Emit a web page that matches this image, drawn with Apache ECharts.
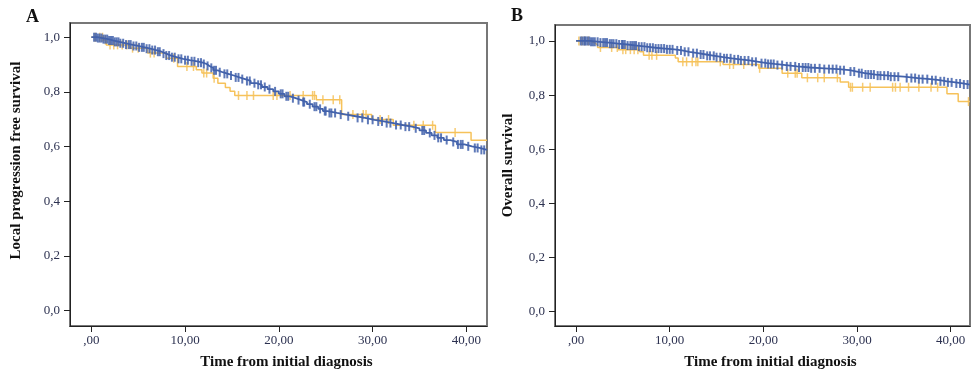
<!DOCTYPE html>
<html>
<head>
<meta charset="utf-8">
<script src="https://cdn.jsdelivr.net/npm/echarts@6/dist/echarts.min.js"></script>
<style>
  html, body { margin: 0; padding: 0; background: #fff; }
  #chart { width: 977px; height: 375px; }
</style>
</head>
<body>
<div id="chart"></div>
<script>
// Kaplan-Meier step curves: event times and survival after each event
const blueA_t = [0, 0.6, 1.2, 1.8, 2.4, 3.0, 3.6, 4.3, 5.0, 5.7, 6.3, 6.9, 7.5, 8.0, 8.5, 9.1, 9.8, 10.5, 11.3, 11.9, 12.3, 12.6, 13.0, 13.5, 14.0, 14.6, 15.2, 15.8, 16.4, 17.0, 17.6, 18.2, 18.8, 19.4, 20.0, 20.6, 21.2, 21.8, 22.4, 23.0, 23.6, 24.2, 24.7, 25.2, 26.2, 27.2, 28.2, 29.2, 30.2, 31.2, 32.2, 33.2, 34.2, 35.0, 35.7, 36.3, 36.9, 37.6, 38.3, 39.0, 39.8, 40.6, 41.4]
const blueA_s = [1.0, 0.997, 0.993, 0.988, 0.983, 0.978, 0.973, 0.968, 0.963, 0.958, 0.953, 0.947, 0.94, 0.933, 0.927, 0.921, 0.916, 0.912, 0.907, 0.902, 0.895, 0.888, 0.879, 0.872, 0.866, 0.86, 0.853, 0.847, 0.84, 0.832, 0.826, 0.818, 0.81, 0.802, 0.793, 0.784, 0.777, 0.77, 0.763, 0.755, 0.746, 0.738, 0.73, 0.723, 0.717, 0.711, 0.705, 0.698, 0.692, 0.686, 0.679, 0.673, 0.667, 0.659, 0.65, 0.641, 0.632, 0.624, 0.617, 0.608, 0.601, 0.595, 0.588]
const blueA_cens = [0.3, 0.5, 0.7, 0.9, 1.1, 1.3, 1.5, 1.7, 1.9, 2.1, 2.3, 2.5, 2.7, 2.9, 3.1, 3.4, 3.7, 4.0, 4.2, 4.5, 4.8, 5.1, 5.4, 5.6, 5.9, 6.2, 6.5, 6.8, 7.1, 7.3, 7.7, 8.0, 8.3, 8.6, 8.9, 9.3, 9.6, 10.0, 10.3, 10.7, 11.0, 11.4, 11.7, 12.0, 12.4, 12.8, 13.1, 13.3, 13.7, 14.2, 14.5, 14.9, 15.4, 15.7, 16.1, 16.6, 16.9, 17.4, 17.8, 18.1, 18.5, 19.0, 19.6, 20.2, 20.4, 20.8, 21.0, 21.5, 22.1, 22.6, 22.7, 23.3, 23.8, 24.0, 24.4, 24.9, 25.0, 25.4, 25.6, 26.0, 26.6, 27.4, 28.4, 28.9, 29.5, 30.0, 30.6, 31.0, 31.5, 31.9, 32.5, 33.0, 33.5, 33.9, 34.6, 35.3, 35.5, 36.1, 36.6, 37.0, 37.3, 37.9, 38.6, 39.1, 39.4, 39.6, 40.2, 40.9, 41.2, 41.6, 41.9]

const yellowA_t = [0, 1.3, 1.6, 4.1, 6.0, 8.0, 9.2, 11.2, 11.8, 13.0, 13.5, 14.3, 14.8, 15.3, 24.0, 26.7, 29.9, 32.2, 36.7, 40.5]
const yellowA_s = [1.0, 0.99, 0.972, 0.96, 0.942, 0.923, 0.893, 0.881, 0.869, 0.85, 0.832, 0.816, 0.802, 0.787, 0.771, 0.717, 0.699, 0.678, 0.652, 0.623]
const yellowA_cens = [0.4, 0.9, 1.2, 1.5, 2.0, 2.4, 2.8, 3.3, 3.8, 4.4, 5.0, 6.3, 6.7, 8.8, 10.2, 10.9, 12.0, 12.3, 13.1, 15.7, 16.6, 17.3, 19.4, 19.8, 21.2, 22.6, 23.6, 23.8, 24.7, 25.8, 26.5, 27.9, 29.0, 29.3, 30.8, 31.7, 34.4, 35.4, 36.4, 38.8]

const blueB_t = [0, 1.5, 2.5, 3.5, 4.5, 5.5, 6.5, 7.5, 8.5, 9.5, 10.5, 11.3, 12.1, 13.0, 13.9, 14.8, 15.7, 16.6, 17.5, 18.5, 19.5, 20.4, 21.2, 22.4, 23.6, 25.0, 26.5, 28.0, 29.2, 30.0, 30.8, 32.0, 33.4, 35.0, 36.5, 37.8, 38.8, 39.6, 40.5, 41.3]
const blueB_s = [1.0, 0.997, 0.994, 0.99, 0.987, 0.983, 0.979, 0.975, 0.972, 0.969, 0.965, 0.96, 0.955, 0.95, 0.945, 0.94, 0.936, 0.932, 0.928, 0.923, 0.918, 0.915, 0.911, 0.906, 0.902, 0.899, 0.896, 0.892, 0.887, 0.881, 0.876, 0.872, 0.868, 0.863, 0.859, 0.855, 0.851, 0.847, 0.843, 0.839]
const blueB_cens = [0.5, 0.7, 0.9, 1.0, 1.2, 1.4, 1.6, 1.8, 2.0, 2.3, 2.6, 2.9, 3.1, 3.3, 3.6, 3.8, 4.0, 4.3, 4.6, 4.9, 5.0, 5.2, 5.5, 5.8, 6.0, 6.2, 6.4, 6.7, 7.0, 7.3, 7.6, 7.9, 8.2, 8.5, 8.8, 9.1, 9.4, 9.7, 10.0, 10.3, 10.8, 11.2, 11.6, 12.0, 12.5, 12.9, 13.3, 13.6, 14.0, 14.3, 14.7, 15.0, 15.4, 15.8, 16.1, 16.5, 16.9, 17.3, 17.6, 18.0, 18.4, 18.8, 19.2, 19.8, 20.2, 20.5, 20.8, 21.1, 21.5, 22.0, 22.5, 22.9, 23.4, 23.8, 24.2, 24.5, 24.8, 25.1, 25.5, 26.0, 26.5, 27.0, 27.4, 27.8, 28.2, 28.6, 29.3, 29.7, 30.2, 30.5, 30.9, 31.2, 31.5, 31.8, 32.2, 32.5, 32.9, 33.3, 33.6, 34.0, 34.4, 35.3, 35.8, 36.2, 36.6, 37.0, 37.5, 38.0, 38.4, 38.9, 39.3, 39.7, 40.1, 40.6, 41.0, 41.4, 41.8]

const yellowB_t = [0, 1.5, 2.0, 2.3, 4.5, 6.8, 7.2, 10.6, 10.9, 15.7, 19.5, 22.0, 24.1, 28.2, 29.1, 39.6, 40.8]
const yellowB_s = [1.0, 0.993, 0.986, 0.976, 0.968, 0.96, 0.947, 0.9375, 0.923, 0.913, 0.899, 0.881, 0.864, 0.848, 0.829, 0.805, 0.776]
const yellowB_cens = [0.3, 0.6, 0.9, 1.3, 2.6, 3.8, 4.4, 5.0, 5.3, 5.8, 6.2, 6.6, 7.8, 8.1, 8.6, 11.4, 11.8, 12.4, 12.8, 13.0, 15.4, 16.4, 16.8, 17.9, 19.6, 22.6, 23.4, 23.6, 24.7, 25.8, 26.5, 27.9, 29.3, 29.5, 30.6, 31.4, 33.8, 34.1, 34.6, 35.5, 36.6, 37.9, 38.6, 41.9]

const xTicks = [0, 10, 20, 30, 40]
const yTicks = [0, 0.2, 0.4, 0.6, 0.8, 1.0]

const BLUE = '#4262ab'
const YELLOW = '#f6c25a'
const FONT = '"Liberation Serif", "DejaVu Serif", serif'

function stepData(ts, ss, tEnd) {
  const d = ts.map((t, i) => [t, ss[i]])
  d.push([tEnd, ss[ss.length - 1]])
  return d
}
function survAt(ts, ss, t) {
  let v = ss[0]
  for (let i = 0; i < ts.length; i++) if (ts[i] <= t) v = ss[i]
  return v
}
function censData(ts, ss, cens) {
  return cens.map((t) => [t, survAt(ts, ss, t)])
}

const xFmt = (v) => (v === 0 ? ',00' : v.toFixed(2).replace('.', ','))
const yFmt = (v) => v.toFixed(1).replace('.', ',')

function xAxis(idx, min, max) {
  return {
    type: 'value', gridIndex: idx, min, max,
    splitLine: { show: false },
    axisLine: { onZero: false, lineStyle: { color: '#222', width: 1 } },
    axisTick: { customValues: xTicks, length: 6, lineStyle: { color: '#222' } },
    axisLabel: { customValues: xTicks, formatter: xFmt, margin: 8, fontFamily: FONT, fontSize: 13, color: '#2c3150' },
    name: 'Time from initial diagnosis', nameLocation: 'middle', nameGap: 29,
    nameTextStyle: { fontFamily: FONT, fontSize: 15, fontWeight: 'bold', color: '#111', padding: [0, 0, 0, 16] },
  }
}
function yAxis(idx, min, max, name, gap, shift) {
  return {
    type: 'value', gridIndex: idx, min, max,
    splitLine: { show: false },
    axisLine: { show: true, onZero: false, lineStyle: { color: '#222', width: 1 } },
    axisTick: { show: true, customValues: yTicks, length: 6, lineStyle: { color: '#222' } },
    axisLabel: { customValues: yTicks, formatter: yFmt, margin: 10, fontFamily: FONT, fontSize: 13, color: '#2c3150' },
    name, nameLocation: 'middle', nameGap: gap,
    nameTextStyle: { fontFamily: FONT, fontSize: 15, fontWeight: 'bold', color: '#111', padding: [0, 0, 0, shift] },
  }
}

function curve(name, idx, data, color, width, z) {
  return { name, type: 'line', step: 'end', xAxisIndex: idx, yAxisIndex: idx, data, showSymbol: false,
    lineStyle: { color, width }, z, silent: true, animation: false }
}
function marks(name, idx, data, color, width, z) {
  return { name, type: 'scatter', xAxisIndex: idx, yAxisIndex: idx, data, symbol: 'rect', symbolSize: [width, 9],
    itemStyle: { color, opacity: 0.85 }, z, silent: true, animation: false }
}

const chart = echarts.init(document.getElementById('chart'), null, { renderer: 'canvas' })
chart.setOption({
  backgroundColor: '#fff',
  animation: false,
  grid: [
    { left: 70, right: 490, top: 23, bottom: 48, show: true, borderColor: '#777', borderWidth: 2, backgroundColor: 'transparent' },
    { left: 555, right: 7, top: 25, bottom: 47, show: true, borderColor: '#777', borderWidth: 2, backgroundColor: 'transparent' },
  ],
  xAxis: [xAxis(0, -2.27, 42.2), xAxis(1, -2.25, 42.06)],
  yAxis: [
    yAxis(0, -0.056, 1.052, 'Local progression free survival', 46, 28),
    yAxis(1, -0.053, 1.059, 'Overall survival', 39, 20),
  ],
  graphic: [
    { type: 'text', left: 26, top: 8, style: { text: 'A', font: 'bold 18px ' + FONT, fill: '#111' } },
    { type: 'text', left: 511, top: 7, style: { text: 'B', font: 'bold 18px ' + FONT, fill: '#111' } },
  ],
  series: [
    curve('A yellow', 0, stepData(yellowA_t, yellowA_s, 42.2), YELLOW, 1.5, 2),
    marks('A yellow cens', 0, censData(yellowA_t, yellowA_s, yellowA_cens), YELLOW, 1.5, 2),
    curve('A blue', 0, stepData(blueA_t, blueA_s, 42.2), BLUE, 1.8, 3),
    marks('A blue cens', 0, censData(blueA_t, blueA_s, blueA_cens), BLUE, 2, 3),
    curve('B yellow', 1, stepData(yellowB_t, yellowB_s, 42.06), YELLOW, 1.5, 2),
    marks('B yellow cens', 1, censData(yellowB_t, yellowB_s, yellowB_cens), YELLOW, 1.5, 2),
    curve('B blue', 1, stepData(blueB_t, blueB_s, 42.06), BLUE, 1.8, 3),
    marks('B blue cens', 1, censData(blueB_t, blueB_s, blueB_cens), BLUE, 2, 3),
  ],
})
</script>
</body>
</html>
